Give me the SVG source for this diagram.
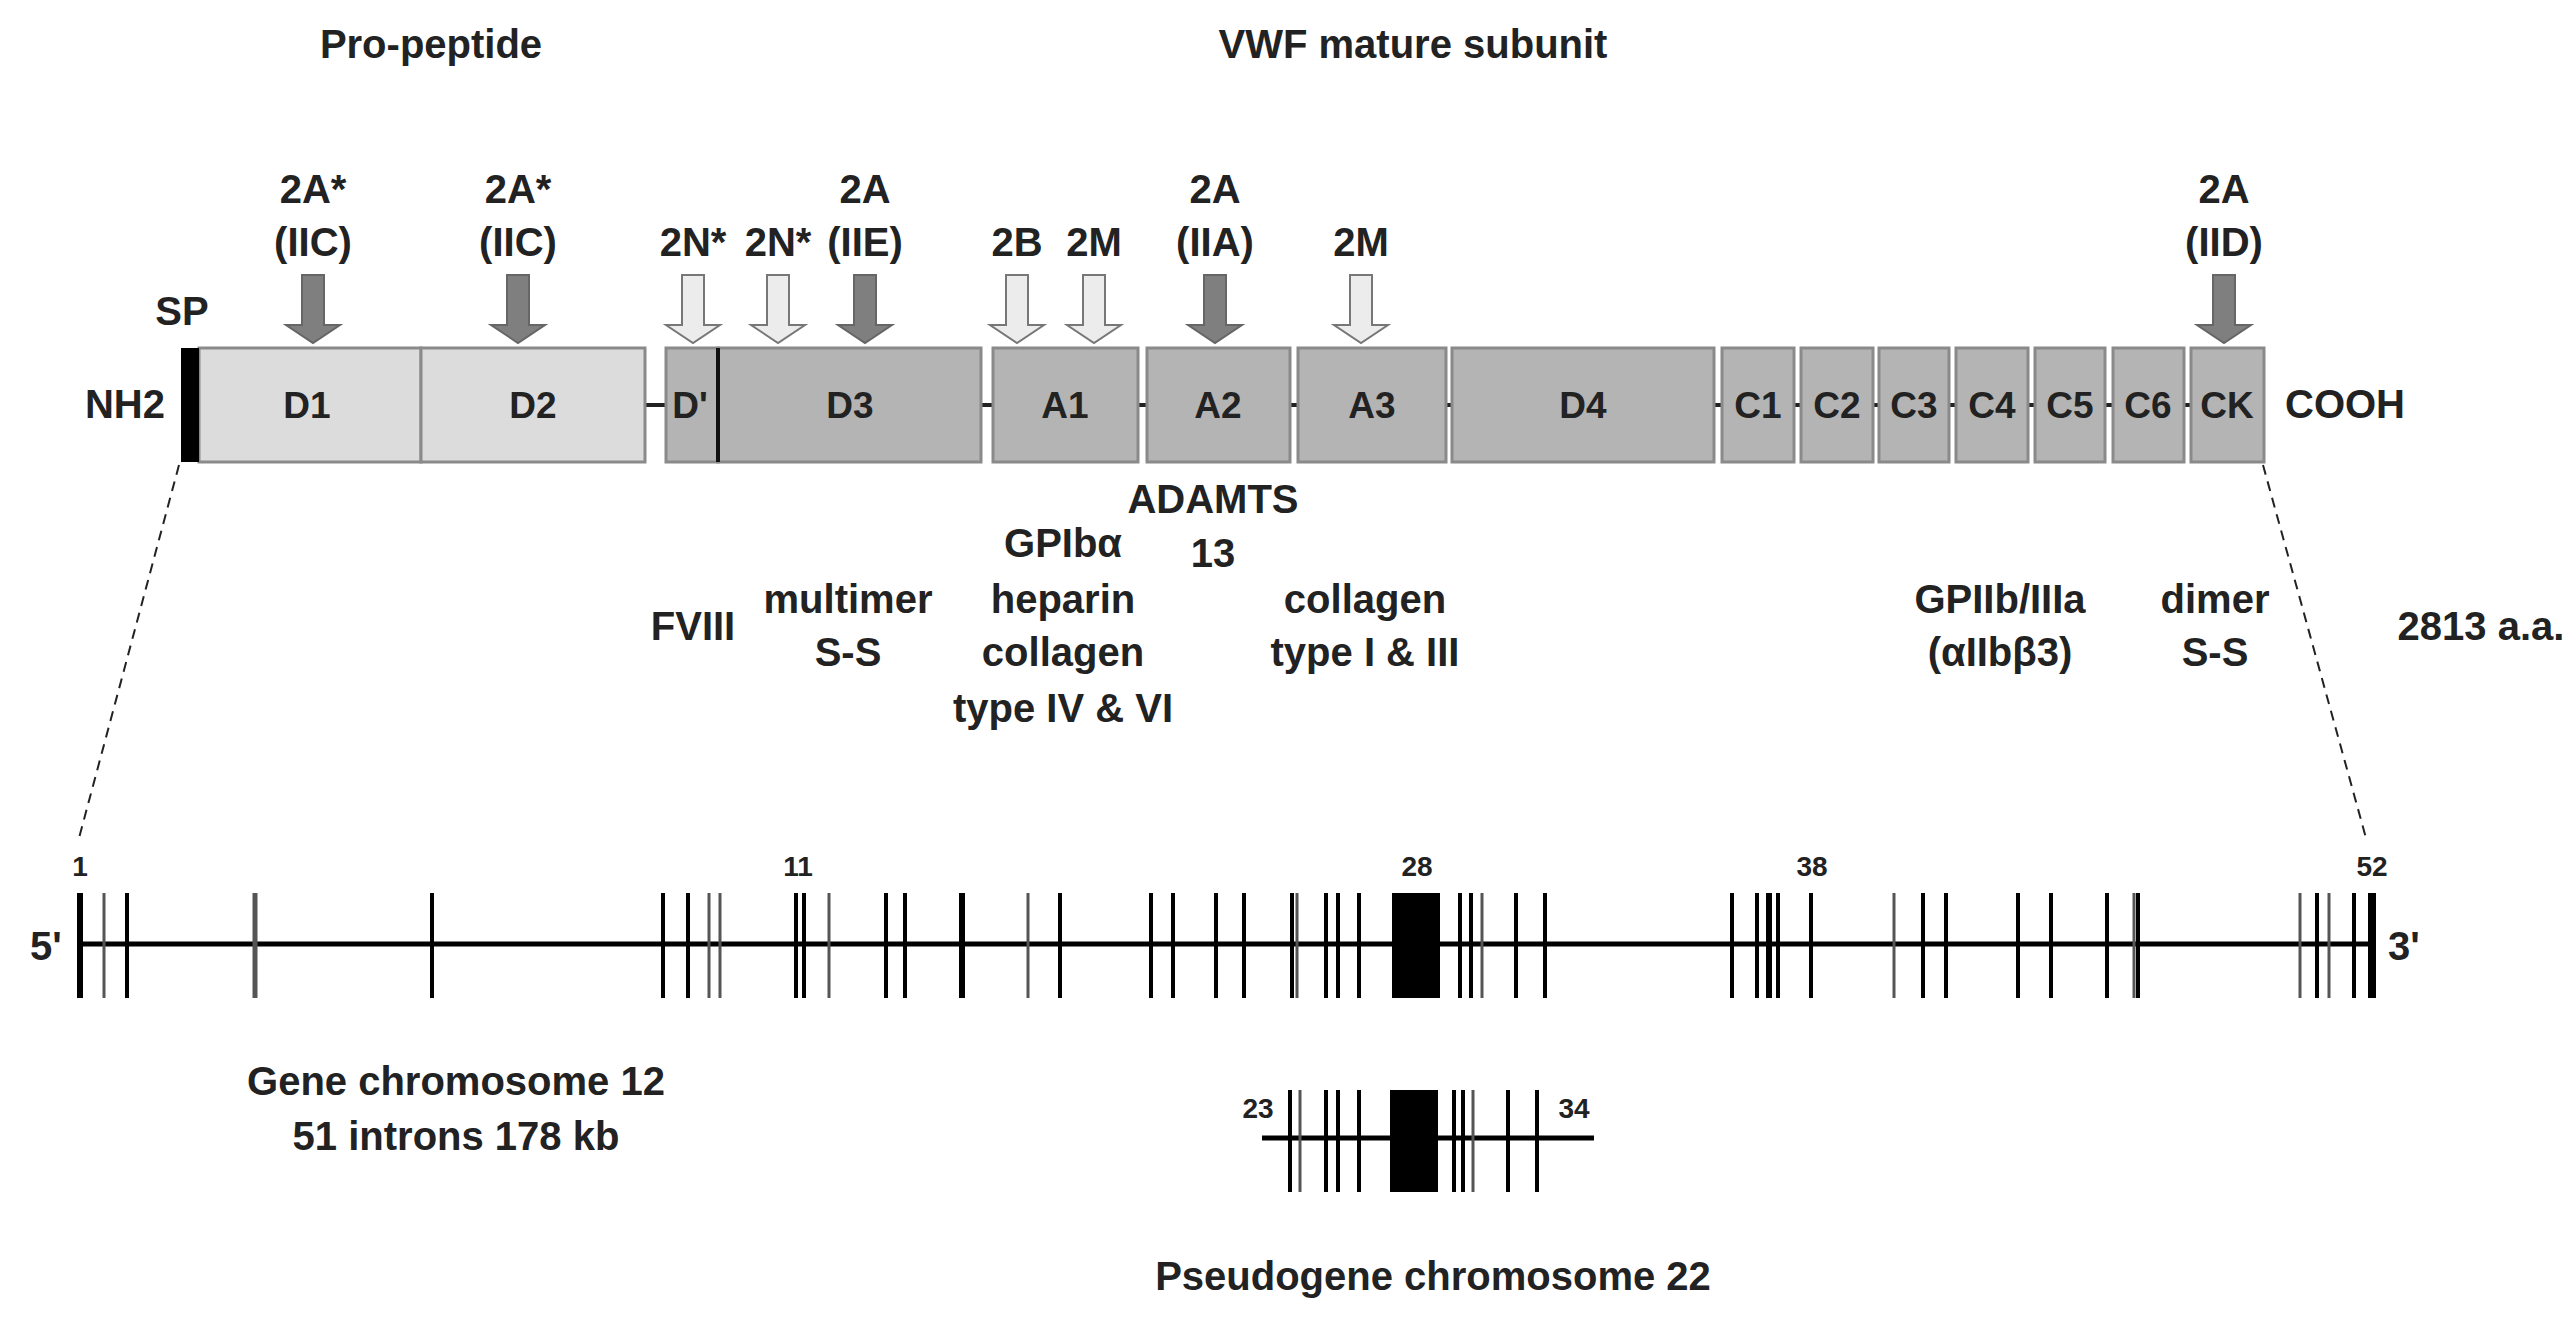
<svg xmlns="http://www.w3.org/2000/svg" width="2576" height="1335" viewBox="0 0 2576 1335">
<defs>
<style>
text{font-family:"Liberation Sans",Arial,sans-serif;font-weight:bold;fill:#222;text-anchor:middle}
.t{font-size:40px}
.b{font-size:37px}
.s{font-size:28px}
.lt{fill:#dcdcdc;stroke:#8a8a8a;stroke-width:3}
.dk{fill:#b4b4b4;stroke:#8a8a8a;stroke-width:3}
.ad{fill:#7f7f7f;stroke:#666;stroke-width:2}
.al{fill:#ececec;stroke:#777;stroke-width:2}
.ex{stroke:#000;stroke-width:4}
.eg{stroke:#555;stroke-width:3}
</style>
<path id="arr" d="M-11,275 H11 V325 H27 L0,343 L-27,325 H-11 Z"/>
</defs>
<rect width="2576" height="1335" fill="#fff"/>
<text class="t" x="431" y="58">Pro-peptide</text>
<text class="t" x="1413" y="58">VWF mature subunit</text>

<g id="arrows">
<use href="#arr" class="ad" x="313"/><use href="#arr" class="ad" x="518"/>
<use href="#arr" class="al" x="693"/><use href="#arr" class="al" x="778"/>
<use href="#arr" class="ad" x="865"/><use href="#arr" class="al" x="1017"/>
<use href="#arr" class="al" x="1094"/><use href="#arr" class="ad" x="1215"/>
<use href="#arr" class="al" x="1361"/><use href="#arr" class="ad" x="2224"/>
</g>
<g id="mutlabels" class="t">
<text x="313" y="203">2A*</text><text x="313" y="256">(IIC)</text>
<text x="518" y="203">2A*</text><text x="518" y="256">(IIC)</text>
<text x="693" y="256">2N*</text><text x="778" y="256">2N*</text>
<text x="865" y="203">2A</text><text x="865" y="256">(IIE)</text>
<text x="1017" y="256">2B</text><text x="1094" y="256">2M</text>
<text x="1215" y="203">2A</text><text x="1215" y="256">(IIA)</text>
<text x="1361" y="256">2M</text>
<text x="2224" y="203">2A</text><text x="2224" y="256">(IID)</text>
<text x="182" y="325">SP</text>
<text x="125" y="418">NH2</text>
<text x="2345" y="418">COOH</text>
</g>

<g id="protein">
<path d="M645,405 H666 M981,405 H993 M1138,405 H1147 M1290,405 H1298 M1446,405 H1452 M1714,405 H1722 M1794,405 H1801 M1873,405 H1879 M1949,405 H1956 M2028,405 H2035 M2105,405 H2113 M2184,405 H2191" stroke="#222" stroke-width="4"/>
<rect x="199" y="348" width="222" height="114" class="lt"/>
<rect x="421" y="348" width="224" height="114" class="lt"/>
<rect x="666" y="348" width="52" height="114" class="dk"/>
<rect x="718" y="348" width="263" height="114" class="dk"/>
<line x1="718" y1="348" x2="718" y2="462" stroke="#111" stroke-width="4"/>
<rect x="993" y="348" width="145" height="114" class="dk"/>
<rect x="1147" y="348" width="143" height="114" class="dk"/>
<rect x="1298" y="348" width="148" height="114" class="dk"/>
<rect x="1452" y="348" width="262" height="114" class="dk"/>
<rect x="1722" y="348" width="72" height="114" class="dk"/>
<rect x="1801" y="348" width="72" height="114" class="dk"/>
<rect x="1879" y="348" width="70" height="114" class="dk"/>
<rect x="1956" y="348" width="72" height="114" class="dk"/>
<rect x="2035" y="348" width="70" height="114" class="dk"/>
<rect x="2113" y="348" width="71" height="114" class="dk"/>
<rect x="2191" y="348" width="73" height="114" class="dk"/>
<rect x="181" y="348" width="18" height="114" fill="#000"/>
<g class="b">
<text x="307" y="418">D1</text><text x="533" y="418">D2</text><text x="690" y="418">D'</text>
<text x="850" y="418">D3</text><text x="1065" y="418">A1</text><text x="1218" y="418">A2</text>
<text x="1372" y="418">A3</text><text x="1583" y="418">D4</text>
<text x="1758" y="418">C1</text><text x="1837" y="418">C2</text><text x="1914" y="418">C3</text>
<text x="1992" y="418">C4</text><text x="2070" y="418">C5</text><text x="2148" y="418">C6</text><text x="2227" y="418">CK</text>
</g>
</g>

<g id="binding" class="t">
<text x="1213" y="513">ADAMTS</text><text x="1213" y="567">13</text>
<text x="1063" y="557">GPIbα</text><text x="1063" y="613">heparin</text><text x="1063" y="666">collagen</text><text x="1063" y="722">type IV &amp; VI</text>
<text x="693" y="640">FVIII</text>
<text x="848" y="613">multimer</text><text x="848" y="666">S-S</text>
<text x="1365" y="613">collagen</text><text x="1365" y="666">type I &amp; III</text>
<text x="2000" y="613">GPIIb/IIIa</text><text x="2000" y="666">(αIIbβ3)</text>
<text x="2215" y="613">dimer</text><text x="2215" y="666">S-S</text>
<text x="2481" y="640">2813 a.a.</text>
</g>

<g id="connectors" stroke="#222" stroke-width="2" stroke-dasharray="10,7" fill="none">
<line x1="179" y1="465" x2="79" y2="838"/>
<line x1="2263" y1="465" x2="2366" y2="838"/>
</g>

<g id="gene">
<line x1="80" y1="944" x2="2372" y2="944" stroke="#000" stroke-width="5"/>
<g class="ex">
<line x1="80" y1="893" x2="80" y2="998" stroke-width="6"/>
<line x1="127" y1="893" x2="127" y2="998"/>
<line x1="432" y1="893" x2="432" y2="998"/>
<line x1="663" y1="893" x2="663" y2="998"/><line x1="688" y1="893" x2="688" y2="998"/>
<line x1="796" y1="893" x2="796" y2="998"/><line x1="804" y1="893" x2="804" y2="998"/>
<line x1="886" y1="893" x2="886" y2="998"/><line x1="905" y1="893" x2="905" y2="998"/>
<line x1="962" y1="893" x2="962" y2="998" stroke-width="6"/>
<line x1="1060" y1="893" x2="1060" y2="998"/>
<line x1="1151" y1="893" x2="1151" y2="998"/><line x1="1173" y1="893" x2="1173" y2="998"/>
<line x1="1216" y1="893" x2="1216" y2="998"/><line x1="1244" y1="893" x2="1244" y2="998"/>
<line x1="1292" y1="893" x2="1292" y2="998"/><line x1="1326" y1="893" x2="1326" y2="998"/>
<line x1="1338" y1="893" x2="1338" y2="998"/><line x1="1359" y1="893" x2="1359" y2="998"/>
<line x1="1460" y1="893" x2="1460" y2="998"/><line x1="1471" y1="893" x2="1471" y2="998"/>
<line x1="1516" y1="893" x2="1516" y2="998"/><line x1="1545" y1="893" x2="1545" y2="998"/>
<line x1="1732" y1="893" x2="1732" y2="998"/><line x1="1757" y1="893" x2="1757" y2="998"/>
<line x1="1769" y1="893" x2="1769" y2="998" stroke-width="6"/><line x1="1778" y1="893" x2="1778" y2="998"/>
<line x1="1811" y1="893" x2="1811" y2="998"/>
<line x1="1923" y1="893" x2="1923" y2="998"/><line x1="1946" y1="893" x2="1946" y2="998"/>
<line x1="2018" y1="893" x2="2018" y2="998"/><line x1="2051" y1="893" x2="2051" y2="998"/>
<line x1="2107" y1="893" x2="2107" y2="998"/><line x1="2138" y1="893" x2="2138" y2="998"/>
<line x1="2317" y1="893" x2="2317" y2="998"/><line x1="2354" y1="893" x2="2354" y2="998"/>
<line x1="2372" y1="893" x2="2372" y2="998" stroke-width="8"/>
</g>
<g class="eg">
<line x1="104" y1="893" x2="104" y2="998"/>
<line x1="255" y1="893" x2="255" y2="998" stroke-width="5"/>
<line x1="709" y1="893" x2="709" y2="998"/><line x1="720" y1="893" x2="720" y2="998"/>
<line x1="829" y1="893" x2="829" y2="998"/><line x1="1028" y1="893" x2="1028" y2="998"/>
<line x1="1297" y1="893" x2="1297" y2="998"/><line x1="1482" y1="893" x2="1482" y2="998"/>
<line x1="1894" y1="893" x2="1894" y2="998"/><line x1="2134" y1="893" x2="2134" y2="998"/>
<line x1="2300" y1="893" x2="2300" y2="998"/><line x1="2329" y1="893" x2="2329" y2="998"/>
</g>
<rect x="1392" y="893" width="48" height="105" fill="#000"/>
<g class="s">
<text x="80" y="876">1</text><text x="798" y="876">11</text><text x="1417" y="876">28</text>
<text x="1812" y="876">38</text><text x="2372" y="876">52</text>
</g>
<text class="t" x="46" y="960">5'</text>
<text class="t" x="2404" y="960">3'</text>
<text class="t" x="456" y="1095">Gene chromosome 12</text>
<text class="t" x="456" y="1150">51 introns 178 kb</text>
</g>

<g id="pseudogene">
<line x1="1262" y1="1138" x2="1594" y2="1138" stroke="#000" stroke-width="5"/>
<g class="ex">
<line x1="1290" y1="1090" x2="1290" y2="1192"/><line x1="1300" y1="1090" x2="1300" y2="1192" class="eg"/>
<line x1="1326" y1="1090" x2="1326" y2="1192"/><line x1="1338" y1="1090" x2="1338" y2="1192"/>
<line x1="1359" y1="1090" x2="1359" y2="1192"/>
<line x1="1454" y1="1090" x2="1454" y2="1192"/><line x1="1463" y1="1090" x2="1463" y2="1192"/>
<line x1="1473" y1="1090" x2="1473" y2="1192" class="eg"/>
<line x1="1508" y1="1090" x2="1508" y2="1192"/><line x1="1537" y1="1090" x2="1537" y2="1192"/>
</g>
<rect x="1390" y="1090" width="48" height="102" fill="#000"/>
<text class="s" x="1258" y="1118">23</text>
<text class="s" x="1574" y="1118">34</text>
<text class="t" x="1433" y="1290">Pseudogene chromosome 22</text>
</g>
</svg>
